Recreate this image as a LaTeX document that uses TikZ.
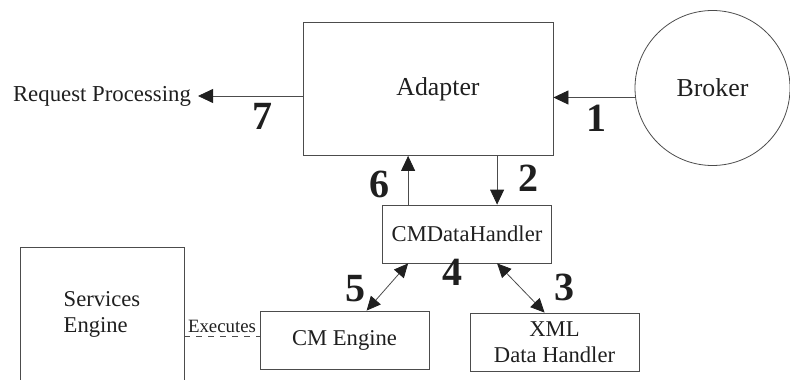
\documentclass[tikz,border=0pt]{standalone}
\usepackage{fontspec}
\setmainfont{Liberation Serif}
\usepackage{tikz}
\usetikzlibrary{arrows.meta,shapes}
\definecolor{linegray}{gray}{.3}
\definecolor{textblack}{gray}{.12}

\begin{document}
\begin{tikzpicture}[x=0.5pt,y=-0.5pt]
	  \tikzstyle{every node} = [text=textblack]
	  \tikzstyle{box} = [rectangle, draw=linegray, inner sep=0pt, minimum width=84.5pt, minimum height=29pt, font=\fontsize{11.3}{13}\selectfont]
	  \tikzstyle{num} = [font=\fontsize{20}{22}\selectfont\bfseries]
	  \tikzstyle{flow} = [draw=linegray, -{Triangle[length=7.5pt,width=7pt,color=textblack]}]
	  \tikzstyle{both} = [draw=linegray, {Triangle[length=7pt,width=6.5pt,color=textblack]}-{Triangle[length=7pt,width=6.5pt,color=textblack]}]
	  \useasboundingbox (0,0) rectangle (790,379);
	  \node (adapter)[box, minimum width=125pt, minimum height=66.5pt, font=\fontsize{12.9}{15}\selectfont] at (428, 89) {\hspace*{10pt}Adapter};
	  \node (broker)[circle, draw=linegray, inner sep=0pt, minimum size=77.5pt, font=\fontsize{12.9}{15}\selectfont] at (712.5, 88) {Broker};
	  \node (request)[font=\fontsize{11.4}{13}\selectfont] at (102, 96) {Request Processing};
	  \node (cmdh)[box] at (467, 234) {CMDataHandler};
	  \node (cmengine)[box] at (344.5, 340) {CM Engine};
	  \node (xml)[box, align=center] at (554.5, 342) {XML\\Data Handler};
	  \node (services)[box, minimum width=82pt, minimum height=67pt, align=left] at (102, 314) {Services\\Engine};
	  % step numbers
	  \node (n1)[num] at (596, 118) {1};
	  \node (n2)[num] at (528, 178) {2};
	  \node (n3)[num] at (564, 287) {3};
	  \node (n4)[num] at (452, 272) {4};
	  \node (n5)[num] at (355, 289) {5};
	  \node (n6)[num] at (379, 184) {6};
	  \node (n7)[num] at (262, 116) {7};
	  % connectors
	  \draw[flow] (broker.187) -- (broker.187 -| adapter.east);
	  \draw[flow] (adapter.west |- request) -- (request);
	  \draw[flow] ([xshift=13pt]cmdh.north west) -- ([xshift=13pt]cmdh.north west |- adapter.south);
	  \draw[flow] ([xshift=57.5pt]cmdh.north west |- adapter.south) -- ([xshift=57.5pt]cmdh.north west);
	  \draw[both] ([xshift=13pt]cmdh.south west) -- ([xshift=53.5pt]cmengine.north west);
	  \draw[both] ([xshift=57.5pt]cmdh.south west) -- ([xshift=37.5pt]xml.north west);
	  \draw[dashed, draw=linegray] ([yshift=2pt]cmengine.west -| services.east) -- node[above, inner sep=1.5pt, font=\fontsize{9.4}{11}\selectfont] (executes) {Executes} ([yshift=2pt]cmengine.west);
	\end{tikzpicture}
\end{document}
